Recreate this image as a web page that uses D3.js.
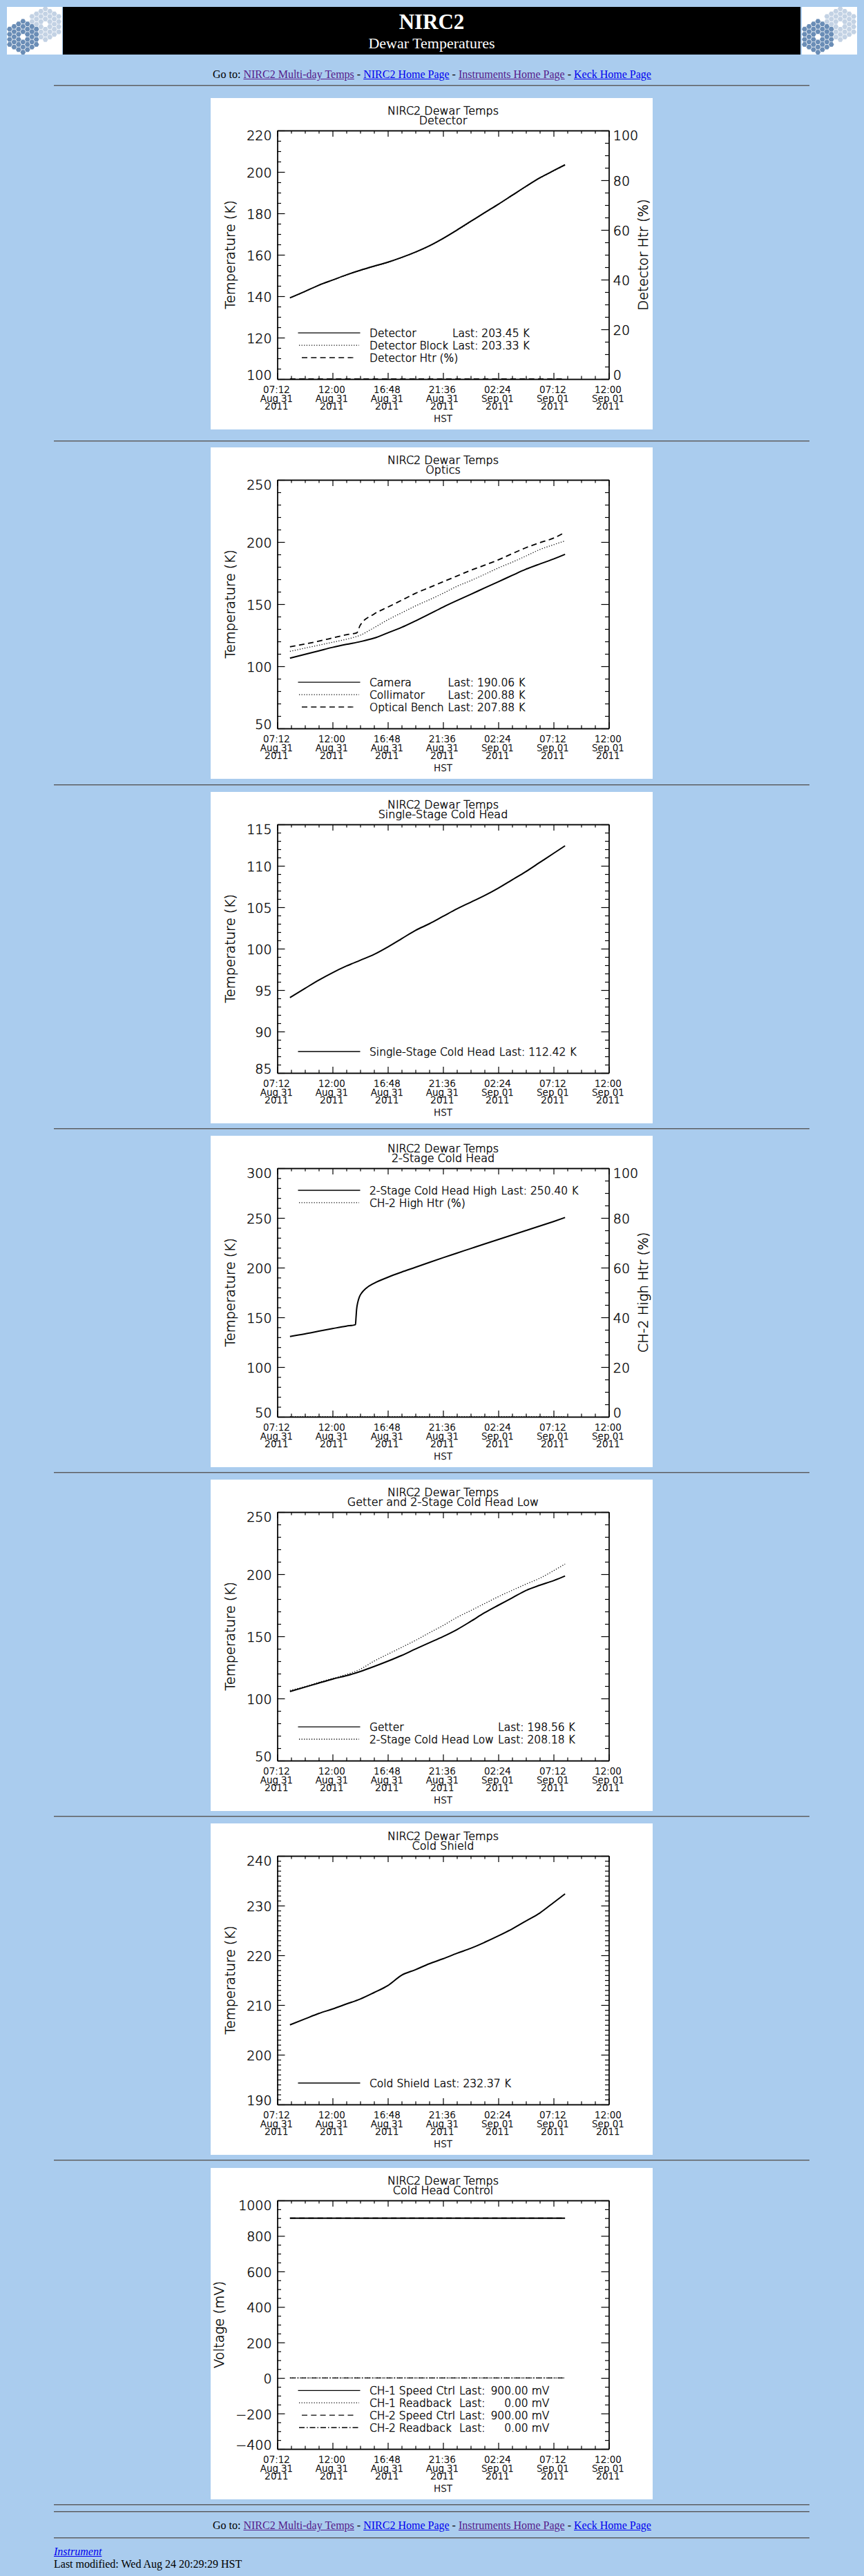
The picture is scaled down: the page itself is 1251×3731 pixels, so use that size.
<!DOCTYPE html>
<html><head><meta charset="utf-8">
<script src="https://cdn.jsdelivr.net/npm/d3@7"></script>
<style>
html,body{margin:0;padding:0;}
body{background:#aaccee;width:1251px;height:3731px;position:relative;overflow:hidden;font-family:"Liberation Serif","Times New Roman",serif;}
.abs{position:absolute;}
.hr{position:absolute;left:78px;width:1094px;height:0;border-top:1px solid #555a60;border-bottom:1px solid #8e9aa8;}
.nav{position:absolute;left:0;width:1251px;text-align:center;font-size:16px;line-height:20px;color:#000;white-space:pre;}
.nav a,.foot a{text-decoration:underline;}
.v{color:#551a8b}.u{color:#0000ee}
.foot{position:absolute;left:78px;font-size:16px;line-height:20px;color:#000;}
</style></head><body>
<script>
// ---------------- data ----------------
const TIME_LABELS = ["07:12","12:00","16:48","21:36","02:24","07:12","12:00"];
const DATE_LABELS = ["Aug 31","Aug 31","Aug 31","Aug 31","Sep 01","Sep 01","Sep 01"];
const YEAR_LABELS = ["2011","2011","2011","2011","2011","2011","2011"];
const AXIS_SPAN_HOURS = 28.8;           // 07:12 Aug 31 -> 12:00 Sep 01
const TICK_STEP_HOURS = 4.8;
const MINOR_STEP_HOURS = 1.2;
// sample times, hours after 07:12 Aug 31 HST
const HRS = [1.1,2.4,3.6,4.8,6.0,7.2,8.4,9.6,10.8,12.0,13.2,14.4,15.6,16.8,18.0,19.2,20.4,21.6,22.8,24.0,25.0];

const detector      = [139.2,142.3,145.3,147.8,150.3,152.5,154.5,156.4,158.7,161.3,164.3,167.9,171.9,176.1,180.3,184.4,188.7,193.0,197.1,200.6,203.45];
const detectorBlock = [139.1,142.2,145.2,147.7,150.2,152.4,154.4,156.3,158.6,161.2,164.2,167.8,171.8,176.0,180.2,184.3,188.6,192.9,197.0,200.5,203.33];
const detectorHtr   = [0,0,0,0,0,0,0,0,0,0,0,0,0,0,0,0,0,0,0,0,0];

const camera      = [106.5,109.6,112.4,115.2,117.6,119.8,122.6,126.9,131.3,136.5,142.0,147.6,152.8,157.8,163.0,168.0,173.1,178.1,182.3,186.3,190.06];
const collimator  = [112.0,114.6,117.0,119.3,121.7,125.0,131.0,137.4,143.0,148.5,153.5,158.7,164.3,168.9,173.9,179.1,183.7,188.7,193.9,197.8,200.88];
const BENCH_HRS   = [1.1,2.4,3.6,4.8,6.0,6.9,7.2,8.4,9.6,10.8,12.0,13.2,14.4,15.6,16.8,18.0,19.2,20.4,21.6,22.8,24.0,25.0];
const opticalBench= [115.7,117.9,120.2,122.8,125.4,126.9,133.0,142.0,147.6,153.1,158.7,163.3,168.0,172.6,177.2,181.3,185.6,190.6,195.4,199.4,203.1,207.88];

const singleStage = [94.1,95.2,96.2,97.1,97.9,98.6,99.3,100.2,101.2,102.2,103.0,103.9,104.8,105.6,106.4,107.3,108.3,109.3,110.4,111.5,112.42];

const TWO_STAGE_HRS = [1.1,2.4,3.6,4.8,6.0,6.79,6.84,6.89,6.99,7.14,7.34,7.71,8.41,9.6,10.8,12.0,13.2,14.4,15.6,16.8,18.0,19.2,20.4,21.6,22.8,24.0,25.0];
const twoStageHigh  = [130.8,133.4,136.1,138.7,141.2,142.6,150.0,158.0,165.0,170.8,174.7,179.2,184.3,190.3,195.5,200.3,205.2,210.0,214.6,219.2,223.8,228.3,232.8,237.3,241.8,246.4,250.40];
const ch2HighHtr    = [0,0,0,0,0,0,0,0,0,0,0,0,0,0,0,0,0,0,0,0,0,0,0,0,0,0,0];

const getter        = [105.6,109.1,112.4,115.6,118.3,121.7,125.7,130.0,134.6,139.8,144.8,149.8,155.4,162.0,168.9,175.0,180.9,186.9,191.1,194.8,198.56];
const twoStageLow   = [106.5,109.6,113.0,116.1,119.3,123.5,130.0,135.6,141.1,146.7,152.8,158.7,165.2,170.7,176.3,181.9,187.0,192.0,196.7,202.8,208.18];

const coldShield    = [206.0,207.2,208.3,209.2,210.2,211.2,212.5,213.9,216.0,217.1,218.3,219.3,220.4,221.4,222.6,223.9,225.3,226.9,228.5,230.6,232.37];

const ch1Speed      = [900,900,900,900,900,900,900,900,900,900,900,900,900,900,900,900,900,900,900,900,900.00];
const ch1Readback   = [0,0,0,0,0,0,0,0,0,0,0,0,0,0,0,0,0,0,0,0,0.00];
const ch2Speed      = [900,900,900,900,900,900,900,900,900,900,900,900,900,900,900,900,900,900,900,900,900.00];
const ch2Readback   = [0,0,0,0,0,0,0,0,0,0,0,0,0,0,0,0,0,0,0,0,0.00];

const CHART_TITLE = "NIRC2 Dewar Temps";
const SUBTITLES = ["Detector","Optics","Single-Stage Cold Head","2-Stage Cold Head","Getter and 2-Stage Cold Head Low","Cold Shield","Cold Head Control"];

// ---------------- chart definitions ----------------
const charts = [
 {sub:SUBTITLES[0], yDom:[100,220], yMaj:20, yMin:5, yLabel:"Temperature (K)", unit:"K", legend:"bottom",
  right:{dom:[0,100], maj:20, min:5, label:"Detector Htr (%)"},
  series:[{name:"Detector",t:HRS,v:detector,style:"solid",last:true},
          {name:"Detector Block",t:HRS,v:detectorBlock,style:"dotted",last:true},
          {name:"Detector Htr (%)",t:HRS,v:detectorHtr,style:"dashed",axis:"right",last:false}]},
 {sub:SUBTITLES[1], yDom:[50,250], yMaj:50, yMin:10, yLabel:"Temperature (K)", unit:"K", legend:"bottom",
  series:[{name:"Camera",t:HRS,v:camera,style:"solid",last:true},
          {name:"Collimator",t:HRS,v:collimator,style:"dotted",last:true},
          {name:"Optical Bench",t:BENCH_HRS,v:opticalBench,style:"dashed",last:true}]},
 {sub:SUBTITLES[2], yDom:[85,115], yMaj:5, yMin:1, yLabel:"Temperature (K)", unit:"K", legend:"bottom",
  series:[{name:"Single-Stage Cold Head",t:HRS,v:singleStage,style:"solid",last:true}]},
 {sub:SUBTITLES[3], yDom:[50,300], yMaj:50, yMin:10, yLabel:"Temperature (K)", unit:"K", legend:"top",
  right:{dom:[0,100], maj:20, min:5, label:"CH-2 High Htr (%)"},
  series:[{name:"2-Stage Cold Head High",t:TWO_STAGE_HRS,v:twoStageHigh,style:"solid",last:true},
          {name:"CH-2 High Htr (%)",t:TWO_STAGE_HRS,v:ch2HighHtr,style:"dotted",axis:"right",last:false}]},
 {sub:SUBTITLES[4], yDom:[50,250], yMaj:50, yMin:10, yLabel:"Temperature (K)", unit:"K", legend:"bottom",
  series:[{name:"Getter",t:HRS,v:getter,style:"solid",last:true},
          {name:"2-Stage Cold Head Low",t:HRS,v:twoStageLow,style:"dotted",last:true}]},
 {sub:SUBTITLES[5], yDom:[190,240], yMaj:10, yMin:1, yLabel:"Temperature (K)", unit:"K", legend:"bottom",
  series:[{name:"Cold Shield",t:HRS,v:coldShield,style:"solid",last:true}]},
 {sub:SUBTITLES[6], yDom:[-400,1000], yMaj:200, yMin:50, yLabel:"Voltage (mV)", unit:"mV", legend:"bottom", rightAlignVal:true,
  series:[{name:"CH-1 Speed Ctrl",t:HRS,v:ch1Speed,style:"solid",last:true},
          {name:"CH-1 Readback",t:HRS,v:ch1Readback,style:"dotted",last:true},
          {name:"CH-2 Speed Ctrl",t:HRS,v:ch2Speed,style:"dashed",last:true},
          {name:"CH-2 Readback",t:HRS,v:ch2Readback,style:"dashdot",last:true}]}
];

// ---------------- page layout ----------------
const PANEL_TOPS = [142,648,1147,1645,2143,2641,3140];
const HR_TOPS = [124,639,1137,1635,2133,2631,3129,3628,3638,3676];
const CF = '"DejaVu Sans","Verdana",sans-serif';
const body = d3.select("body");

// header
const hdr = body.append("svg").attr("class","abs").style("left","0px").style("top","0px")
  .attr("width",1251).attr("height",90);
hdr.append("rect").attr("x",91).attr("y",10).attr("width",1068).attr("height",69).attr("fill","#000");
hdr.append("text").attr("x",625).attr("y",42).attr("text-anchor","middle")
  .attr("font-family",'"Liberation Serif",serif').attr("font-weight","bold").attr("font-size",31)
  .attr("fill","#fff").text("NIRC2");
hdr.append("text").attr("x",625).attr("y",70).attr("text-anchor","middle")
  .attr("font-family",'"Liberation Serif",serif').attr("font-size",22)
  .attr("fill","#fff").text("Dewar Temperatures");
function logo(x0){
  const g = hdr.append("g").attr("transform",`translate(${x0},10)`);
  g.append("rect").attr("width",80).attr("height",69).attr("fill","#fff");
  const clip = "lc"+x0;
  hdr.append("clipPath").attr("id",clip).append("rect").attr("width",80).attr("height",69);
  const gg = g.append("g").attr("clip-path",`url(#${clip})`);
  const R = 4.3, s3 = Math.sqrt(3);
  function cluster(cx,cy,col){
    const cells=[];
    for(let q=-3;q<=3;q++) for(let r=-3;r<=3;r++){const s=-q-r;const d=Math.max(Math.abs(q),Math.abs(r),Math.abs(s)); if(d>=1&&d<=3) cells.push([cx+1.5*R*q, cy+s3*R*(r+q/2)]);}
    gg.selectAll(null).data(cells).enter().append("path")
      .attr("d",d=>{const pts=d3.range(6).map(i=>{const a=Math.PI/3*i;return [d[0]+R*0.9*Math.cos(a), d[1]+R*0.9*Math.sin(a)];});return "M"+pts.join("L")+"Z";})
      .attr("fill",col);
  }
  cluster(55.7,25,"#c3d2e4");
  cluster(23.3,43.3,"#6a8db6");
}
logo(10); logo(1161);

function navLine(top){
  const d = body.append("div").attr("class","nav").style("top",top+"px");
  d.append("span").text("Go to: ");
  d.append("a").attr("class","v").text("NIRC2 Multi-day Temps");
  d.append("span").text(" - ");
  d.append("a").attr("class","u").text("NIRC2 Home Page");
  d.append("span").text(" - ");
  d.append("a").attr("class","v").text("Instruments Home Page");
  d.append("span").text(" - ");
  d.append("a").attr("class","u").text("Keck Home Page");
}
navLine(98);
navLine(3648);
HR_TOPS.forEach(t=>body.append("div").attr("class","hr").style("top",(t-1)+"px"));
body.append("div").attr("class","foot").style("top","3686px")
  .append("a").attr("class","u").style("font-style","italic").text("Instrument");
body.append("div").attr("class","foot").style("top","3704px").text("Last modified: Wed Aug 24 20:29:29 HST");

// ---------------- charts ----------------
const L=96.5, R=576.5, T=47, B=407;
const STY = {solid:{w:2,d:null}, dotted:{w:1.3,d:"1.2,2.4"}, dashed:{w:1.8,d:"8,5.3"}, dashdot:{w:1.4,d:"8,3,1.5,3"}};
const LEG = {solid:[126.5,216.5], dotted:[128,215], dashed:[132,208], dashdot:[128,215]};

function rangeTicks(lo,hi,step){const n=Math.round((hi-lo)/step);return d3.range(n+1).map(i=>lo+i*step);}

function drawChart(cfg, top){
  const svg = body.append("svg").attr("class","abs").style("left","305px").style("top",top+"px")
    .attr("width",640).attr("height",480).style("overflow","hidden");
  svg.append("rect").attr("width",640).attr("height",480).attr("fill","#fff");
  const x = d3.scaleLinear().domain([0,AXIS_SPAN_HOURS]).range([L,R]);
  const y = d3.scaleLinear().domain(cfg.yDom).range([B,T]);
  const yr = cfg.right ? d3.scaleLinear().domain(cfg.right.dom).range([B,T]) : null;
  const xMaj = TIME_LABELS.map((_,i)=>i*TICK_STEP_HOURS);
  const xMin = rangeTicks(0,AXIS_SPAN_HOURS,MINOR_STEP_HOURS).filter(h=>Math.abs(h/TICK_STEP_HOURS-Math.round(h/TICK_STEP_HOURS))>1e-6);
  const yMaj = rangeTicks(cfg.yDom[0],cfg.yDom[1],cfg.yMaj);
  const yMin = rangeTicks(cfg.yDom[0],cfg.yDom[1],cfg.yMin).filter(v=>!yMaj.some(m=>Math.abs(m-v)<1e-9));

  const axG = svg.append("g");
  function ax(gen, tr, vals, size, scale){
    const g = axG.append("g").attr("transform",tr)
      .call(gen(scale).tickValues(vals).tickSize(size).tickSizeOuter(0).tickFormat(""));
    g.selectAll("line").attr("stroke","#000").attr("stroke-width",1.2);
    g.select(".domain").attr("stroke","#000").attr("stroke-width",1.3);
  }
  ax(d3.axisTop,`translate(0,${B})`,xMaj,9,x);
  ax(d3.axisTop,`translate(0,${B})`,xMin,4.5,x);
  ax(d3.axisBottom,`translate(0,${T})`,xMaj,9,x);
  ax(d3.axisBottom,`translate(0,${T})`,xMin,4.5,x);
  ax(d3.axisRight,`translate(${L},0)`,yMaj,11,y);
  ax(d3.axisRight,`translate(${L},0)`,yMin,5.5,y);
  if(yr){
    const rMaj = rangeTicks(cfg.right.dom[0],cfg.right.dom[1],cfg.right.maj);
    const rMin = rangeTicks(cfg.right.dom[0],cfg.right.dom[1],cfg.right.min).filter(v=>!rMaj.includes(v));
    ax(d3.axisLeft,`translate(${R},0)`,rMaj,11,yr);
    ax(d3.axisLeft,`translate(${R},0)`,rMin,5.5,yr);
  } else {
    ax(d3.axisLeft,`translate(${R},0)`,yMaj,11,y);
    ax(d3.axisLeft,`translate(${R},0)`,yMin,5.5,y);
  }

  const txt = svg.append("g").attr("font-family",CF).attr("font-weight",200).attr("fill","#000")
    .attr("stroke","#000").attr("stroke-width",0.45);
  // titles
  txt.append("text").attr("x",(L+R)/2).attr("y",17.8+0.365*16).attr("text-anchor","middle").attr("font-size",16).text(CHART_TITLE);
  txt.append("text").attr("x",(L+R)/2).attr("y",32.5+0.365*16).attr("text-anchor","middle").attr("font-size",16).text(cfg.sub);
  // x labels
  const XF=13.5, cap=0.365*XF;
  const rows=[[TIME_LABELS,422],[DATE_LABELS,435],[YEAR_LABELS,446.5]];
  rows.forEach(([arr,cy])=>{
    txt.selectAll(null).data(arr).enter().append("text")
      .attr("x",(d,i)=>x(xMaj[i])-1).attr("y",cy+cap).attr("text-anchor","middle").attr("font-size",XF).text(d=>d);
  });
  txt.append("text").attr("x",(L+R)/2).attr("y",464+cap).attr("text-anchor","middle").attr("font-size",XF).text("HST");
  // y labels
  const YF=19, ycap=0.365*YF;
  const fmt = v=> (v<0?"\u2212":"")+Math.abs(v);
  function yLabY(sc,v,i,n){let c=sc(v)+1; if(i===0) c=sc(v)-6; if(i===n-1) c=sc(v)+7; return c+ycap;}
  const lt = txt.selectAll(null).data(yMaj).enter().append("text")
    .attr("x",L-8).attr("y",(v,i)=>yLabY(y,v,i,yMaj.length)).attr("text-anchor","end").attr("font-size",YF).text(fmt);
  let maxW=0; lt.each(function(){maxW=Math.max(maxW,this.getComputedTextLength());});
  txt.append("text").attr("transform",`translate(${L-8-maxW-17},${(T+B)/2}) rotate(-90)`)
    .attr("text-anchor","middle").attr("font-size",19.5).text(cfg.yLabel);
  if(yr){
    const rMaj = rangeTicks(cfg.right.dom[0],cfg.right.dom[1],cfg.right.maj);
    const rt = txt.selectAll(null).data(rMaj).enter().append("text")
      .attr("x",R+6.3).attr("y",(v,i)=>yLabY(yr,v,i,rMaj.length)).attr("text-anchor","start").attr("font-size",YF).text(fmt);
    let mw=0; rt.each(function(){mw=Math.max(mw,this.getComputedTextLength());});
    txt.append("text").attr("transform",`translate(${Math.min(R+6.3+mw+18.5,633)},${(T+B)/2}) rotate(-90)`)
      .attr("text-anchor","middle").attr("font-size",19.5).text(cfg.right.label);
  }
  // data
  const plotG = svg.append("g");
  cfg.series.forEach(s=>{
    const sc = s.axis==="right"?yr:y;
    const pts = s.t.map((h,i)=>[h,s.v[i]]);
    const st = STY[s.style];
    plotG.append("path").datum(pts)
      .attr("d",d3.line().curve(d3.curveMonotoneX).x(d=>x(d[0])).y(d=>sc(d[1])))
      .attr("fill","none").attr("stroke","#000").attr("stroke-width",st.w)
      .attr("stroke-dasharray",st.d).attr("stroke-linejoin","round");
  });
  // legend
  const LF=15.5, lcap=0.365*LF, step=17.9, n=cfg.series.length;
  const rowY = i => cfg.legend==="top" ? (T+32+i*step) : (B-31-(n-1-i)*step);
  const lg = svg.append("g").attr("font-family",CF).attr("font-size",LF);
  const lgt = lg.append("g").attr("font-weight",200).attr("fill","#000").attr("stroke","#000").attr("stroke-width",0.45);
  const names=[];
  cfg.series.forEach((s,i)=>{
    const st=STY[s.style], ex=LEG[s.style];
    lg.append("line").attr("x1",ex[0]).attr("x2",ex[1]).attr("y1",rowY(i)).attr("y2",rowY(i))
      .attr("stroke","#000").attr("stroke-width",1.3).attr("stroke-dasharray",st.d);
    names.push(lgt.append("text").attr("x",230).attr("y",rowY(i)+lcap).text(s.name));
  });
  let nameW=0;
  names.forEach((t,i)=>{ if(cfg.series[i].last) nameW=Math.max(nameW,t.node().getComputedTextLength()); });
  const lastX = 230+nameW+6;
  const lastLbl = lgt.append("text").attr("x",-999).attr("y",-999).text("Last:  ");
  const lastW = lastLbl.node().getComputedTextLength(); lastLbl.remove();
  const vals = cfg.series.map(s=>s.v[s.v.length-1].toFixed(2)+" "+cfg.unit);
  let valW=0;
  const probe = lgt.append("text").attr("x",-999).attr("y",-999);
  vals.forEach(v=>{probe.text(v); valW=Math.max(valW,probe.node().getComputedTextLength());}); probe.remove();
  cfg.series.forEach((s,i)=>{
    if(!s.last) return;
    if(cfg.rightAlignVal){
      lgt.append("text").attr("x",lastX).attr("y",rowY(i)+lcap).text("Last:");
      lgt.append("text").attr("x",lastX+lastW+valW+8).attr("y",rowY(i)+lcap).attr("text-anchor","end").text(vals[i]);
    } else {
      lgt.append("text").attr("x",lastX).attr("y",rowY(i)+lcap).text("Last: "+vals[i]);
    }
  });
}
charts.forEach((c,i)=>drawChart(c,PANEL_TOPS[i]));
</script>
</body></html>
